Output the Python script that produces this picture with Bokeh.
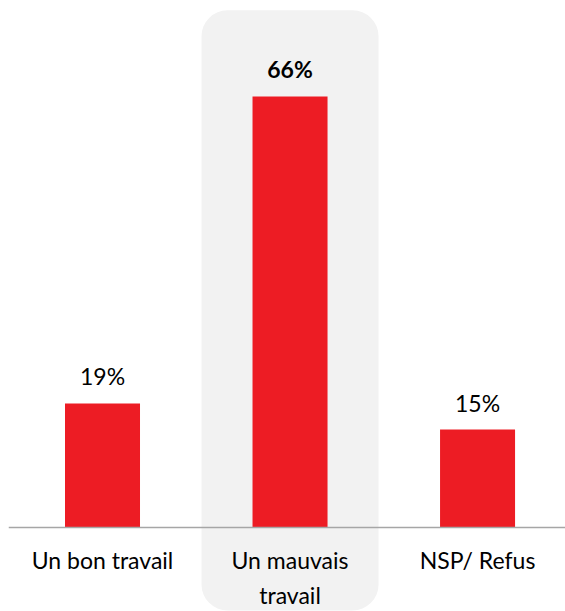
from bokeh.plotting import figure
from bokeh.models import ColumnDataSource, Range1d, Span
from bokeh.core.properties import value
from bokeh.embed import file_html
from bokeh.resources import INLINE

# Survey answers and shares (%)
categories = ["Un bon travail", "Un mauvais\ntravail", "NSP/ Refus"]
shares = [19, 66, 15]
label_styles = ["normal", "bold", "normal"]
highlight_index = 1

RED = "#ED1C24"
PANEL = "#F2F2F2"
FONT = value("Lato")

xs = list(range(len(categories)))
src = ColumnDataSource(dict(
    x=xs,
    share=shares,
    label=[f"{v}%" for v in shares],
    style=label_styles,
    cat=categories,
))

p = figure(width=565, height=611, output_backend="svg", toolbar_location=None,
           x_range=Range1d(-0.5013, 2.469), y_range=Range1d(-12.86, 80.7),
           min_border_left=8, min_border_right=0, min_border_top=0, min_border_bottom=0)
p.axis.visible = False
p.grid.visible = False
p.outline_line_color = None
p.background_fill_color = "white"
p.border_fill_color = "white"

# rounded highlight panel behind the emphasised answer
p.quad(left=[highlight_index - 0.472], right=[highlight_index + 0.472],
       top=[79.2], bottom=[-12.7], fill_color=PANEL, line_color=None,
       border_radius=26)

p.vbar(x="x", top="share", bottom=0, width=0.4, source=src,
       fill_color=RED, line_color=None)

# baseline
p.add_layout(Span(location=0, dimension="width", line_color="#A6A6A6", line_width=1.5))

# value labels
p.text(x="x", y="share", text="label", source=src, text_align="center",
       text_baseline="bottom", y_offset=-13, text_font=FONT, text_font_size="23px",
       text_font_style="style", text_color="black")

# category labels
p.text(x="x", y=0, text="cat", source=src, text_align="center",
       text_baseline="top", y_offset=18, text_font=FONT, text_font_size="23px",
       text_line_height=1.25, text_color="black")

open("out.html", "w").write(file_html(p, INLINE))
